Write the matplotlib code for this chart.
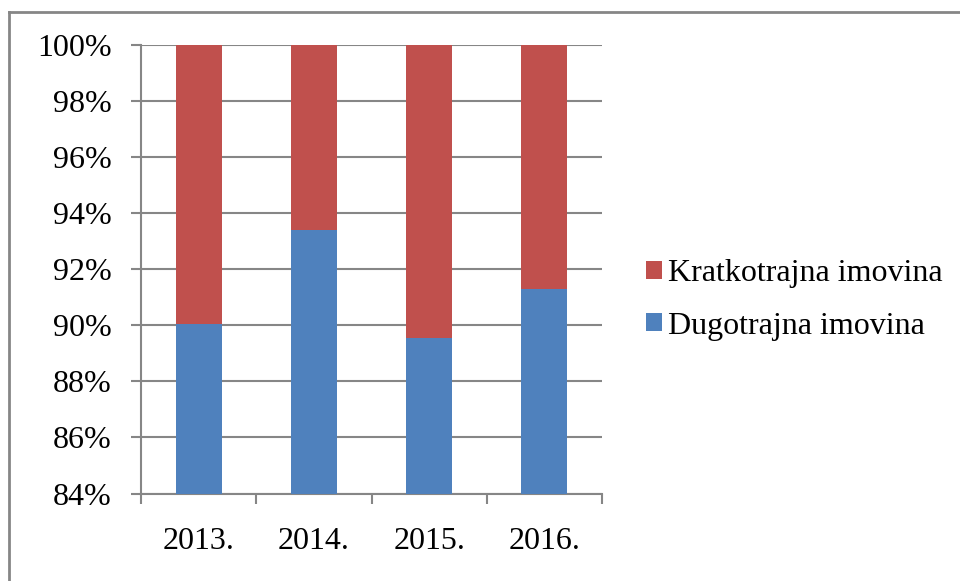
import matplotlib.pyplot as plt
import numpy as np
from matplotlib.lines import Line2D

# data (percent share, stacked to 100)
years = ["2013.", "2014.", "2015.", "2016."]
dugotrajna = [90.06, 93.40, 89.54, 91.30]
kratkotrajna = [100 - v for v in dugotrajna]

blue = "#4F81BD"
red = "#C0504D"
gray = "#868686"

plt.rcParams["font.family"] = ["Liberation Serif", "DejaVu Serif"]

fig = plt.figure(figsize=(9.6, 5.81), dpi=100)
ax = fig.add_axes([0.1469, 0.1506, 0.4802, 0.7719])

x = np.arange(len(years))
ax.bar(x, dugotrajna, width=0.4, color=blue, label="Dugotrajna imovina", zorder=3)
ax.bar(x, kratkotrajna, width=0.4, bottom=dugotrajna, color=red,
       label="Kratkotrajna imovina", zorder=3)

ax.set_ylim(84, 100)
ax.set_xlim(-0.5, len(years) - 0.5)
ax.set_yticks(np.arange(84, 101, 2))
ax.set_yticklabels([f"{v}%" for v in range(84, 101, 2)])
ax.set_xticks(x)
ax.set_xticklabels(years)
ax.set_xticks(np.arange(-0.5, len(years), 1), minor=True)

ax.yaxis.grid(True, color=gray, linewidth=1.5, zorder=0)
ax.tick_params(axis="y", length=7.2, width=1.5, color=gray, pad=14, labelsize=23)
ax.tick_params(axis="x", which="major", length=0, pad=24, labelsize=23)
ax.tick_params(axis="x", which="minor", length=7.2, width=1.5, color=gray)

for side in ["top", "right"]:
    ax.spines[side].set_visible(False)
for side in ["left", "bottom"]:
    ax.spines[side].set_color(gray)
    ax.spines[side].set_linewidth(1.5)

handles, labels = ax.get_legend_handles_labels()
fig.legend(handles[::-1], labels[::-1], loc="center left",
           bbox_to_anchor=(0.643, 0.4836), frameon=False, fontsize=23,
           handlelength=0.5, handleheight=0.5, handletextpad=0.2,
           labelspacing=0.73)

# outer chart frame (left and top edges visible)
fig.add_artist(Line2D([0.0095, 0.0095], [0, 0.979], color=gray, linewidth=2,
                      transform=fig.transFigure))
fig.add_artist(Line2D([0.0095, 1.0], [0.979, 0.979], color=gray, linewidth=2,
                      transform=fig.transFigure))

fig.savefig("out.png", dpi=100)
